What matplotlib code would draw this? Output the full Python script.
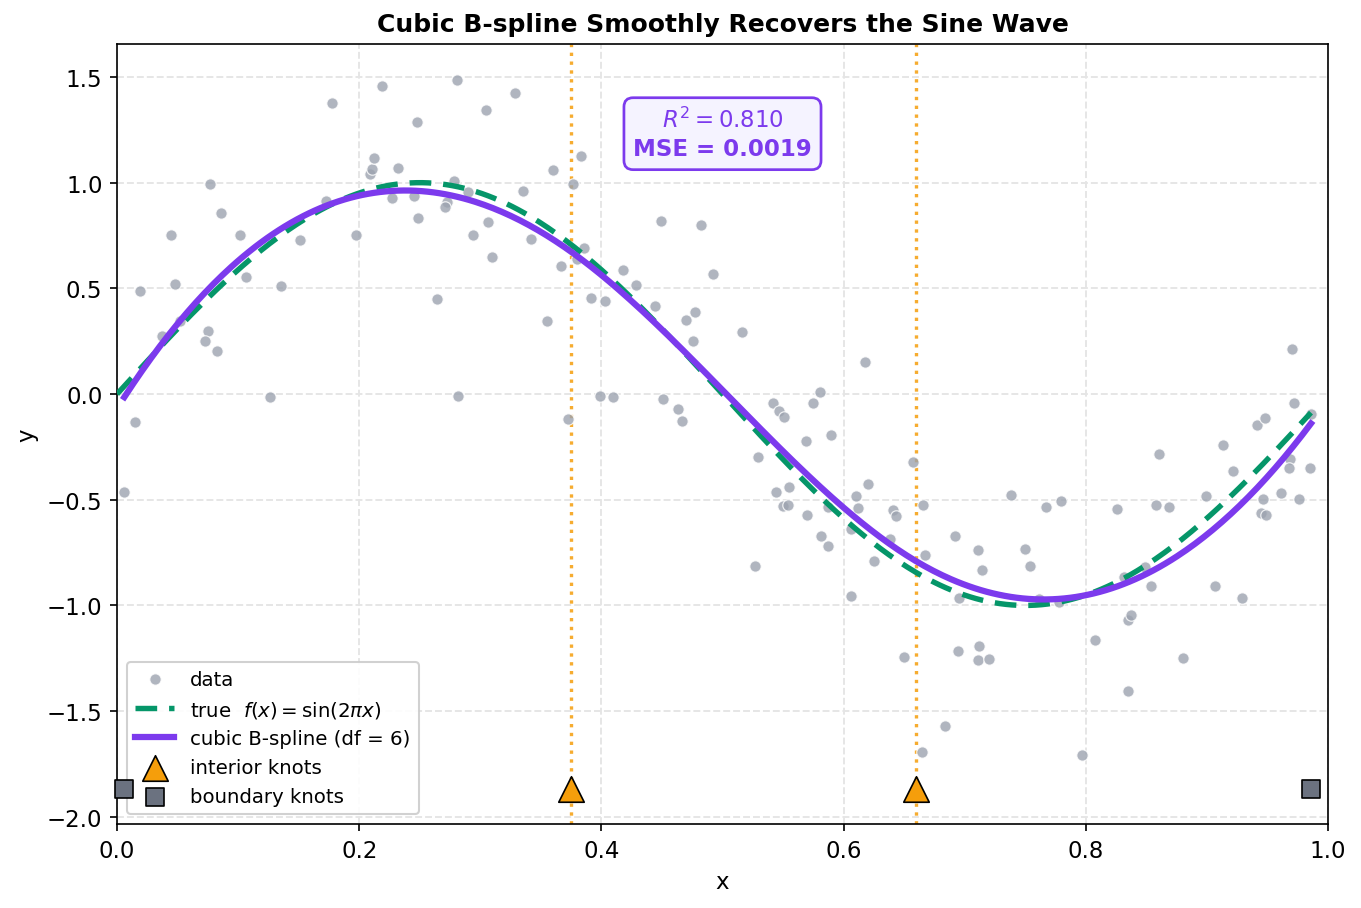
import numpy as np
import matplotlib
matplotlib.use("Agg")
import matplotlib.pyplot as plt

# ---- data ----
x_data = [0.006, 0.0149, 0.019, 0.0369, 0.0446, 0.0482, 0.052, 0.0754, 0.0730, 0.0829,
          0.0771, 0.0862, 0.1019, 0.1069, 0.1266, 0.1357, 0.1514, 0.1726, 0.1778, 0.1976,
          0.2092, 0.2109, 0.2125, 0.2186, 0.2274, 0.2323, 0.2455, 0.248, 0.2488, 0.281,
          0.305, 0.3289, 0.2785, 0.2727, 0.2711, 0.290, 0.294, 0.3066, 0.3099, 0.2645,
          0.2819, 0.3356, 0.3422, 0.3603, 0.3553, 0.3669, 0.3727, 0.3768, 0.3834, 0.3856,
          0.3795, 0.3913, 0.4032, 0.399, 0.4098, 0.418, 0.4288, 0.4445, 0.4495, 0.4511,
          0.4635, 0.4663, 0.4701, 0.4775, 0.4759, 0.4825, 0.4921, 0.5161, 0.618, 0.542,
          0.547, 0.551, 0.575, 0.5808, 0.590, 0.5692, 0.5296, 0.5445, 0.5552, 0.5503,
          0.5544, 0.570, 0.5871, 0.5816, 0.5874, 0.527, 0.6063, 0.6105, 0.6116, 0.6204,
          0.6063, 0.6253, 0.6385, 0.6407, 0.643, 0.650, 0.6576, 0.6658, 0.6675, 0.665,
          0.684, 0.6923, 0.6956, 0.6947, 0.7112, 0.7145, 0.7121, 0.7112, 0.7203, 0.7385,
          0.7673, 0.7797, 0.750, 0.7542, 0.761, 0.778, 0.797, 0.808, 0.826, 0.8315,
          0.835, 0.8376, 0.835, 0.8486, 0.854, 0.8582, 0.8607, 0.869, 0.8805, 0.8995,
          0.907, 0.9136, 0.9218, 0.9292, 0.9416, 0.9466, 0.945, 0.949, 0.9614, 0.969,
          0.968, 0.976, 0.985, 0.9705, 0.972, 0.948, 0.986]
y_data = [-0.465, -0.134, 0.486, 0.276, 0.752, 0.519, 0.347, 0.298, 0.249, 0.202,
          0.992, 0.856, 0.752, 0.552, -0.014, 0.509, 0.727, 0.914, 1.375, 0.751,
          1.041, 1.064, 1.115, 1.455, 0.926, 1.068, 0.935, 1.285, 0.831, 1.484,
          1.342, 1.422, 1.008, 0.910, 0.883, 0.954, 0.752, 0.812, 0.647, 0.448,
          -0.011, 0.960, 0.733, 1.060, 0.344, 0.605, -0.120, 0.992, 1.124, 0.690,
          0.639, 0.454, 0.438, -0.011, -0.016, 0.585, 0.514, 0.415, 0.817, -0.025,
          -0.071, -0.129, 0.348, 0.386, 0.249, 0.798, 0.566, 0.292, 0.150, -0.043,
          -0.082, -0.110, -0.043, 0.008, -0.194, -0.224, -0.298, -0.465, -0.441, -0.530,
          -0.527, -0.574, -0.536, -0.673, -0.721, -0.815, -0.640, -0.482, -0.541, -0.426,
          -0.956, -0.791, -0.686, -0.549, -0.579, -1.246, -0.322, -0.527, -0.763, -1.695,
          -1.571, -0.673, -0.967, -1.216, -0.740, -0.834, -1.193, -1.258, -1.255, -0.479,
          -0.536, -0.506, -0.733, -0.815, -0.968, -0.986, -1.708, -1.165, -0.546, -0.866,
          -1.071, -1.043, -1.407, -0.817, -0.910, -0.527, -0.285, -0.532, -1.251, -0.484,
          -0.910, -0.243, -0.366, -0.967, -0.148, -0.498, -0.564, -0.574, -0.470, -0.309,
          -0.352, -0.498, -0.352, 0.211, -0.040, -0.115, -0.096]

interior_knots = [0.375, 0.660]
boundary_knots = [0.006, 0.986]
knot_marker_y = -1.87
r2_value = 0.810
mse_value = 0.0019
degree = 3

x_arr = np.array(x_data)
y_arr = np.array(y_data)


def bspline_basis(x, knots, k):
    """Cox-de Boor B-spline basis for full knot vector."""
    x = np.asarray(x, dtype=float)
    n = len(knots) - k - 1
    B = np.zeros((len(x), len(knots) - 1))
    for i in range(len(knots) - 1):
        B[:, i] = (x >= knots[i]) & (x < knots[i + 1])
    last = np.max(np.nonzero(np.diff(knots) > 0)[0])
    B[x >= knots[-1], last] = 1.0
    for d in range(1, k + 1):
        Bn = np.zeros((len(x), len(knots) - 1 - d))
        for i in range(len(knots) - 1 - d):
            den1 = knots[i + d] - knots[i]
            den2 = knots[i + d + 1] - knots[i + 1]
            t1 = (x - knots[i]) / den1 * B[:, i] if den1 > 0 else 0
            t2 = (knots[i + d + 1] - x) / den2 * B[:, i + 1] if den2 > 0 else 0
            Bn[:, i] = t1 + t2
        B = Bn
    return B[:, :n]


full_knots = np.r_[[boundary_knots[0]] * (degree + 1), interior_knots,
                   [boundary_knots[1]] * (degree + 1)]
Bmat = bspline_basis(x_arr, full_knots, degree)
coef, *_ = np.linalg.lstsq(Bmat, y_arr, rcond=None)
x_grid = np.linspace(boundary_knots[0], boundary_knots[1], 400)
y_fit = bspline_basis(x_grid, full_knots, degree) @ coef
x_true = np.linspace(0.0, 0.986, 400)
y_true = np.sin(2 * np.pi * x_true)

# ---- plot ----
fig = plt.figure(figsize=(1361 / 150, 909 / 150), dpi=150)
ax = fig.add_axes([0.086, 0.0924, 0.8897, 0.8581])

ax.grid(True, linestyle="--", color="#e5e5e5", linewidth=0.9, zorder=0)
ax.set_axisbelow(True)

ax.scatter(x_arr, y_arr, s=30, color="#9ca3af", alpha=0.8, edgecolor="white",
           linewidth=0.6, label="data", zorder=2)
ax.plot(x_true, y_true, color="#059669", linestyle="--", linewidth=2.6,
        dashes=(4, 2.2), label=r"true  $f(x) = \sin(2\pi x)$", zorder=3)
ax.plot(x_grid, y_fit, color="#7c3aed", linewidth=3.0,
        label="cubic B-spline (df = 6)", zorder=4)
for k in interior_knots:
    ax.axvline(k, color="#f59e0b", linestyle=":", linewidth=1.6, alpha=0.85, zorder=1)
ax.scatter(interior_knots, [knot_marker_y] * len(interior_knots), marker="^", s=150,
           color="#f59e0b", edgecolor="black", linewidth=0.8, label="interior knots",
           zorder=6)
ax.scatter(boundary_knots, [knot_marker_y] * len(boundary_knots), marker="s", s=80,
           color="#6b7280", edgecolor="black", linewidth=0.8, label="boundary knots",
           zorder=6, clip_on=False)

ax.set_xlim(0, 1)
ax.set_ylim(-2.034, 1.656)
ax.set_xlabel("x", fontsize=11)
ax.set_ylabel("y", fontsize=11)
ax.tick_params(labelsize=11)
ax.set_title("Cubic B-spline Smoothly Recovers the Sine Wave", fontsize=12,
             fontweight="bold")

ax.text(0.5, 0.885, r"$R^2 = %.3f$" % r2_value + "\nMSE = %.4f" % mse_value,
        transform=ax.transAxes, ha="center", va="center", fontsize=11,
        fontweight="bold", color="#7c3aed", linespacing=1.3,
        bbox=dict(boxstyle="round,pad=0.4", facecolor="#f5f3ff",
                  edgecolor="#7c3aed", linewidth=1.3))

leg = ax.legend(loc="lower left", fontsize=9.5, framealpha=0.9, edgecolor="#cccccc")
leg.set_zorder(5)

fig.savefig("out.png", dpi=150)
